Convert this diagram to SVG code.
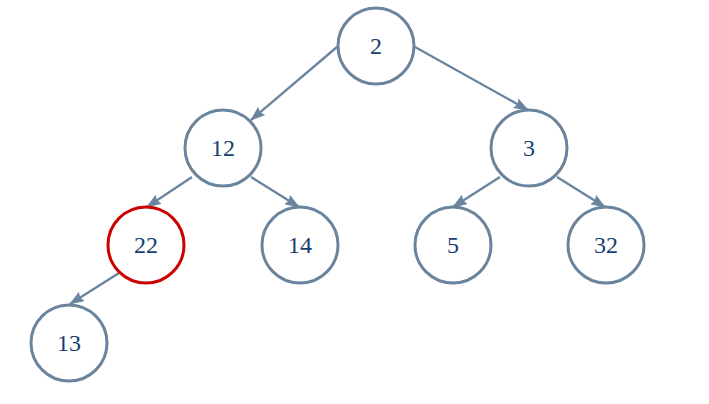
<svg xmlns="http://www.w3.org/2000/svg" width="709" height="404" viewBox="0 0 709 404">
<defs>
<marker id="ah" viewBox="0 0 15 11" refX="14" refY="5.5" markerWidth="15" markerHeight="11" markerUnits="userSpaceOnUse" orient="auto">
<path d="M0,0 L15,5.5 L0,11 L2,5.5 Z" fill="#6b849e"/>
</marker>
<style>
.n{fill:#fff;stroke:#6b849e;stroke-width:3}
.r{stroke:#cc0000}
.t{font-family:"Liberation Serif",serif;font-size:24px;fill:#163f6e;text-anchor:middle;dominant-baseline:central}
.e{stroke:#6b849e;stroke-width:2.3;fill:none;marker-end:url(#ah)}
</style>
</defs>
<rect width="709" height="404" fill="#fff"/>
<g id="connectors">
<line class="e" x1="337" y1="47" x2="251" y2="120"/>
<line class="e" x1="415" y1="47" x2="528" y2="110"/>
<line class="e" x1="192" y1="177" x2="147" y2="207"/>
<line class="e" x1="251" y1="177" x2="299" y2="207"/>
<line class="e" x1="500" y1="177" x2="453" y2="207"/>
<line class="e" x1="557" y1="177" x2="605" y2="207"/>
<line class="e" x1="119" y1="273" x2="70" y2="304"/>
</g>
<g id="n2"><circle class="n" cx="376" cy="46" r="38"/><text class="t" x="376" y="46">2</text></g>
<g id="n12"><circle class="n" cx="223" cy="148" r="38"/><text class="t" x="223" y="148">12</text></g>
<g id="n3"><circle class="n" cx="529" cy="148" r="38"/><text class="t" x="529" y="148">3</text></g>
<g id="n22"><circle class="n r" cx="146" cy="245" r="38"/><text class="t" x="146" y="245">22</text></g>
<g id="n14"><circle class="n" cx="300" cy="245" r="38"/><text class="t" x="300" y="245">14</text></g>
<g id="n5"><circle class="n" cx="453" cy="245" r="38"/><text class="t" x="453" y="245">5</text></g>
<g id="n32"><circle class="n" cx="606" cy="245" r="38"/><text class="t" x="606" y="245">32</text></g>
<g id="n13"><circle class="n" cx="69" cy="343" r="38"/><text class="t" x="69" y="343">13</text></g>
</svg>
